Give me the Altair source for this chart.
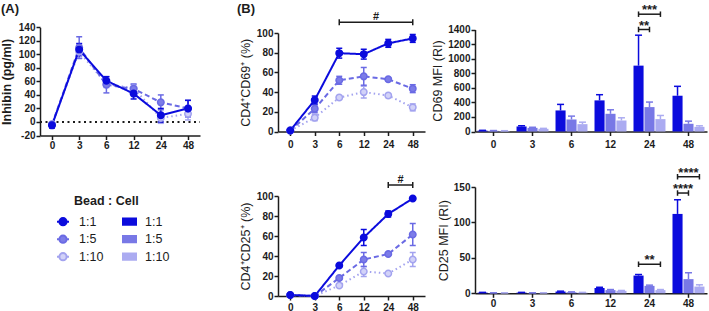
import altair as alt
import pandas as pd

TIMES = ["0", "3", "6", "12", "24", "48"]
RATIOS = ["1:1", "1:5", "1:10"]

# (A) Inhibin (pg/ml): mean and error
inhibin_1_1 = [-5, 107, 61, 42, 10, 20]
inhibin_1_1_err = [4, 9, 6, 8, 10, 12]
inhibin_1_5 = [-4, 110, 55, 49, 29, 20]
inhibin_1_5_err = [3, 16, 12, 7, 11, 12]
inhibin_1_10 = [-3, 104, 56, 50, 6, 12]
inhibin_1_10_err = [3, 10, 5, 6, 8, 9]

# (B) CD4+CD69+ (%)
cd69_pct_1_1 = [1, 32, 79.5, 78.5, 89.5, 94.5]
cd69_pct_1_1_err = [1, 4, 5, 5, 4, 4]
cd69_pct_1_5 = [1, 23, 52, 56, 53, 43.5]
cd69_pct_1_5_err = [1, 4, 4, 9, 1.5, 4]
cd69_pct_1_10 = [1, 14, 34.5, 40, 36.5, 24.5]
cd69_pct_1_10_err = [1, 3, 2, 6, 2, 3.5]

# CD4+CD25+ (%)
cd25_pct_1_1 = [1, 0, 30.5, 58.5, 82, 97.5]
cd25_pct_1_1_err = [0.5, 0.5, 1.5, 8, 3, 1]
cd25_pct_1_5 = [1, 0, 18, 36.5, 42, 61.5]
cd25_pct_1_5_err = [0.5, 0.5, 1.5, 7, 1, 11]
cd25_pct_1_10 = [1, 0, 10.5, 24.5, 22.5, 36.5]
cd25_pct_1_10_err = [0.5, 0.5, 1.5, 5, 1, 7]

# CD69 MFI (RI)
cd69_mfi_1_1 = [12, 69, 289, 427, 904, 491]
cd69_mfi_1_1_err = [4, 10, 83, 78, 418, 129]
cd69_mfi_1_5 = [10, 50, 165, 243, 335, 106]
cd69_mfi_1_5_err = [3, 8, 46, 55, 69, 36]
cd69_mfi_1_10 = [8, 37, 101, 151, 170, 64]
cd69_mfi_1_10_err = [3, 6, 27, 37, 50, 14]

# CD25 MFI (RI)
cd25_mfi_1_1 = [1, 1, 2.5, 7.5, 25, 112]
cd25_mfi_1_1_err = [0.3, 0.3, 0.5, 1, 1.5, 20]
cd25_mfi_1_5 = [0.5, 0.5, 1.5, 4.5, 10.5, 20]
cd25_mfi_1_5_err = [0.2, 0.2, 0.5, 0.8, 1, 9]
cd25_mfi_1_10 = [0.5, 0.5, 1, 3.5, 4.5, 9.5]
cd25_mfi_1_10_err = [0.2, 0.2, 0.3, 0.5, 0.8, 2.5]

# significance annotations
cd69_pct_sig = ["6", "48", 111, "#"]  # from, to, height, label
cd25_pct_sig = ["24", "48", 111, "#"]
cd69_mfi_sig_time = ["24", "24"]
cd69_mfi_sig_to = ["1:5", "1:10"]
cd69_mfi_sig_y = [1400, 1610]
cd69_mfi_sig_label = ["**", "***"]
cd25_mfi_sig_time = ["24", "48", "48"]
cd25_mfi_sig_to = ["1:10", "1:5", "1:10"]
cd25_mfi_sig_y = [41, 141.5, 164.5]
cd25_mfi_sig_label = ["**", "****", "****"]

# ---------------- styling / layout ----------------
W, H = 709, 311
FONT = "Liberation Sans"
INK = "#1c1c1c"
LINE_COLS = ["#0b0bdd", "#6a6ae4", "#a3a3ef"]
FILL_COLS = ["#0b0bdd", "#7c7ce8", "#d2d2f8"]
BAR_COLS = ["#0b0bdd", "#7878e6", "#ababf1"]
DASHES = [[1, 0], [5, 3], [1.5, 3]]
HCAP = "M-1,0L1,0"
VCAP = "M0,-1L0,1"
BAND_PI, BAND_PO, OFF_PI = 0.18, 0.065, 0.08

PANELS = {
    "inh": dict(kind="point", xr=[40, 200], pad=0.44, yd=[-20, 140], yr=[135.5, 27.3],
                yvals=list(range(-20, 141, 20)), title="Inhibin (pg/ml)", tw="bold", tp=5, xlp=1),
    "c69": dict(kind="point", xr=[278, 425], pad=0.5, yd=[0, 100], yr=[131.5, 33],
                yvals=list(range(0, 101, 20)), title="CD4⁺CD69⁺ (%)", tw="normal", tp=4, xlp=4),
    "c25": dict(kind="point", xr=[278, 425], pad=0.5, yd=[0, 100], yr=[296, 196],
                yvals=list(range(0, 101, 20)), title="CD4⁺CD25⁺ (%)", tw="normal", tp=4, xlp=2),
    "m69": dict(kind="band", xr=[475, 707], yd=[0, 1400], yr=[131.5, 29.5],
                yvals=list(range(0, 1401, 200)), title="CD69 MFI (RI)", tw="normal", tp=3, xlp=4),
    "m25": dict(kind="band", xr=[475, 707], yd=[0, 150], yr=[293.3, 187],
                yvals=[0, 50, 100, 150], title="CD25 MFI (RI)", tw="normal", tp=3, xlp=1),
}


def x_step(p):
    n = len(TIMES)
    span = p["xr"][1] - p["xr"][0]
    if p["kind"] == "point":
        return span / (n - 1 + 2 * p["pad"])
    return span / (n - BAND_PI + 2 * BAND_PO)


def xaxis(p):
    return alt.Axis(orient="bottom", offset=p["yr"][0] - H, title=None, labelAngle=0,
                    labelFont=FONT, labelFontSize=10, labelFontWeight="bold", labelColor=INK,
                    domainColor=INK, domainWidth=1.5, tickColor=INK, tickWidth=1.5, tickSize=4,
                    labelPadding=p["xlp"], grid=False)


def yaxis(p):
    return alt.Axis(orient="left", offset=-p["xr"][0], title=p["title"], values=p["yvals"],
                    labelFont=FONT, labelFontSize=10, labelFontWeight="bold", labelColor=INK,
                    labelExpr="'' + datum.value", labelOverlap=False, labelPadding=1,
                    domainColor=INK, domainWidth=1.5, tickColor=INK, tickWidth=1.5, tickSize=4,
                    titleFont=FONT, titleFontSize=12.5, titleFontWeight=p["tw"], titleColor=INK,
                    titlePadding=p["tp"], grid=False)


def X(p, field="t", axis=False):
    if p["kind"] == "point":
        sc = alt.Scale(type="point", domain=TIMES, range=p["xr"], padding=p["pad"])
    else:
        sc = alt.Scale(type="band", domain=TIMES, range=p["xr"], paddingInner=BAND_PI,
                       paddingOuter=BAND_PO)
    return alt.X(f"{field}:N", scale=sc, axis=xaxis(p) if axis else None)


def Y(p, field, axis=False):
    sc = alt.Scale(domain=p["yd"], range=p["yr"], nice=False, zero=False)
    return alt.Y(f"{field}:Q", scale=sc, axis=yaxis(p) if axis else None)


def XO(field="r", centre=False):
    # bars: ordinary offset bands; other marks: zero-width bands placed at the bar centres
    if centre:
        sc = alt.Scale(domain=RATIOS, paddingInner=1, paddingOuter=(1 - OFF_PI) / 2)
    else:
        sc = alt.Scale(domain=RATIOS, paddingInner=OFF_PI, paddingOuter=0)
    return alt.XOffset(f"{field}:N", scale=sc)


def long_df(means, errs):
    rows = []
    for r, m, e in reversed(list(zip(RATIOS, means, errs))):
        for i, (t, v, ev) in enumerate(zip(TIMES, m, e)):
            rows.append(dict(t=t, i=i, r=r, v=v, lo=v - ev, hi=v + ev))
    return pd.DataFrame(rows)


def stroke_enc(cols=LINE_COLS):
    return alt.Stroke("r:N", scale=alt.Scale(domain=RATIOS, range=cols), legend=None)


def line_panel(key, means, errs):
    p = PANELS[key]
    base = alt.Chart(long_df(means, errs))
    err = base.mark_rule(strokeWidth=1.5).encode(x=X(p), y=Y(p, "lo"), y2=alt.Y2("hi"), stroke=stroke_enc())
    caps = base.transform_fold(["lo", "hi"], as_=["k", "cv"]).mark_point(
        shape=HCAP, size=36, strokeWidth=1.5, filled=False, opacity=1
    ).encode(x=X(p), y=Y(p, "cv"), stroke=stroke_enc())
    line = base.mark_line(strokeWidth=2).encode(
        x=X(p, axis=True), y=Y(p, "v", axis=True), stroke=stroke_enc(),
        strokeDash=alt.StrokeDash("r:N", scale=alt.Scale(domain=RATIOS, range=DASHES), legend=None),
        order=alt.Order("i:Q"))
    pts = base.mark_point(size=42, strokeWidth=1.5, filled=False, opacity=1).encode(
        x=X(p), y=Y(p, "v"), stroke=stroke_enc(),
        fill=alt.Fill("r:N", scale=alt.Scale(domain=RATIOS, range=FILL_COLS), legend=None))
    return [err, caps, line, pts]


def line_sig(key, sig):
    p = PANELS[key]
    f, t, yv, lab = sig
    i0, i1 = TIMES.index(f), TIMES.index(t)
    mid = (i0 + i1) / 2
    df = pd.DataFrame([{"f": f, "to": t, "y": yv, "lab": lab, "m": TIMES[int(mid)]}])
    rule = alt.Chart(df).mark_rule(color=INK, strokeWidth=1.5).encode(
        x=X(p, "f"), x2=alt.X2("to"), y=Y(p, "y"))
    caps = alt.Chart(df).transform_fold(["f", "to"], as_=["k", "e"]).mark_point(
        shape=VCAP, size=36, color=INK, strokeWidth=1.5, opacity=1, filled=False
    ).encode(x=X(p, "e"), y=Y(p, "y"))
    text = alt.Chart(df).mark_text(font=FONT, fontSize=11, fontWeight="bold", color=INK,
                                   baseline="alphabetic", dx=(mid - int(mid)) * x_step(p), dy=-2
                                   ).encode(x=X(p, "m"), y=Y(p, "y"), text="lab:N")
    return [rule, caps, text]


def bar_panel(key, means, errs):
    p = PANELS[key]
    base = alt.Chart(long_df(means, errs))
    color = alt.Color("r:N", scale=alt.Scale(domain=RATIOS, range=BAR_COLS), legend=None)
    bars = base.mark_bar(opacity=1).encode(x=X(p, axis=True), xOffset=XO(),
                                           y=Y(p, "v", axis=True), color=color)
    err = base.mark_rule(strokeWidth=1.5).encode(x=X(p), xOffset=XO(centre=True), y=Y(p, "v"),
                                                 y2=alt.Y2("hi"), color=color)
    cap = base.mark_point(shape=HCAP, size=49, strokeWidth=1.5, filled=False, opacity=1).encode(
        x=X(p), xOffset=XO(centre=True), y=Y(p, "hi"), color=color)
    return [bars, err, cap]


def bar_sig(key, times, tos, ys, labels):
    p = PANELS[key]
    rows, adj_rows, wide_rows = [], [], []
    for k, (t, to, yv, lab) in enumerate(zip(times, tos, ys, labels)):
        for j, r in enumerate(("1:1", to)):
            rows.append(dict(id=k, j=j, t=t, r=r, y=yv))
        if RATIOS.index(to) == 1:
            adj_rows.append(dict(t=t, r="1:1", y=yv, lab=lab))
        else:
            wide_rows.append(dict(t=t, r="1:5", y=yv, lab=lab))
    df = pd.DataFrame(rows)
    bw = x_step(p) * (1 - BAND_PI)
    off_step = bw / (len(RATIOS) - OFF_PI)
    out = [
        alt.Chart(df).mark_line(color=INK, strokeWidth=1.5).encode(
            x=X(p), xOffset=XO(centre=True), y=Y(p, "y"), detail="id:N", order=alt.Order("j:Q")),
        alt.Chart(df).mark_point(shape=VCAP, size=30, color=INK, strokeWidth=1.5, filled=False, opacity=1).encode(
            x=X(p), xOffset=XO(centre=True), y=Y(p, "y")),
    ]
    for rows_, dx in ((adj_rows, off_step / 2), (wide_rows, 0)):
        if rows_:
            out.append(alt.Chart(pd.DataFrame(rows_)).mark_text(
                font=FONT, fontSize=13, fontWeight="bold", color=INK, baseline="alphabetic", dx=dx, dy=0
            ).encode(x=X(p), xOffset=XO(centre=True), y=Y(p, "y"), text="lab:N"))
    return out


def label_text(s, x, y, size, weight="bold"):
    return alt.Chart(pd.DataFrame({"s": [s]})).mark_text(
        font=FONT, fontSize=size, fontWeight=weight, color=INK, align="left", baseline="alphabetic"
    ).encode(text="s:N", x=alt.value(x), y=alt.value(y))


layers = []
# zero reference line in (A)
pA = PANELS["inh"]
layers.append(alt.Chart(pd.DataFrame({"y": [0]})).mark_rule(
    color=INK, strokeWidth=2, strokeDash=[2, 3.5]).encode(
    y=Y(pA, "y"), x=alt.value(pA["xr"][0]), x2=alt.value(pA["xr"][1])))
layers += line_panel("inh", [inhibin_1_1, inhibin_1_5, inhibin_1_10],
                     [inhibin_1_1_err, inhibin_1_5_err, inhibin_1_10_err])
layers += line_panel("c69", [cd69_pct_1_1, cd69_pct_1_5, cd69_pct_1_10],
                     [cd69_pct_1_1_err, cd69_pct_1_5_err, cd69_pct_1_10_err])
layers += line_panel("c25", [cd25_pct_1_1, cd25_pct_1_5, cd25_pct_1_10],
                     [cd25_pct_1_1_err, cd25_pct_1_5_err, cd25_pct_1_10_err])
layers += line_sig("c69", cd69_pct_sig)
layers += line_sig("c25", cd25_pct_sig)
layers += bar_panel("m69", [cd69_mfi_1_1, cd69_mfi_1_5, cd69_mfi_1_10],
                    [cd69_mfi_1_1_err, cd69_mfi_1_5_err, cd69_mfi_1_10_err])
layers += bar_panel("m25", [cd25_mfi_1_1, cd25_mfi_1_5, cd25_mfi_1_10],
                    [cd25_mfi_1_1_err, cd25_mfi_1_5_err, cd25_mfi_1_10_err])
layers += bar_sig("m69", cd69_mfi_sig_time, cd69_mfi_sig_to, cd69_mfi_sig_y, cd69_mfi_sig_label)
layers += bar_sig("m25", cd25_mfi_sig_time, cd25_mfi_sig_to, cd25_mfi_sig_y, cd25_mfi_sig_label)

# legends
LEG_Y, ROW_PAD, CLIP_H = 214.7, 3.5, 14
line_sym = "M-1,0L-0.6,0M0.6,0L1,0M0.6,0A0.6,0.6,0,1,1,-0.6,0A0.6,0.6,0,1,1,0.6,0Z"
bar_sym = "M-1,-0.55L1,-0.55L1,0.55L-1,0.55Z"
leg1 = alt.Legend(orient="none", legendX=56, legendY=LEG_Y, title=None, direction="vertical",
                  symbolType=line_sym, symbolSize=144, symbolStrokeWidth=2, padding=0,
                  labelFont=FONT, labelFontSize=12.5, labelColor=INK, labelOffset=9,
                  rowPadding=ROW_PAD, clipHeight=CLIP_H)
leg2 = alt.Legend(orient="none", legendX=122, legendY=LEG_Y, title=None, direction="vertical",
                  symbolType=bar_sym, symbolSize=225, symbolStrokeWidth=0, padding=0,
                  labelFont=FONT, labelFontSize=12.5, labelColor=INK, labelOffset=8,
                  rowPadding=ROW_PAD, clipHeight=CLIP_H)
leg_df = pd.DataFrame({"r": RATIOS})
layers.append(alt.Chart(leg_df).transform_filter("false").mark_point(filled=False, opacity=1).encode(
    stroke=alt.Stroke("r:N", scale=alt.Scale(domain=RATIOS, range=LINE_COLS), legend=leg1),
    fill=alt.Fill("r:N", scale=alt.Scale(domain=RATIOS, range=FILL_COLS), legend=leg1)))
layers.append(alt.Chart(leg_df).transform_filter("false").mark_point(filled=True, opacity=1).encode(
    color=alt.Color("r:N", scale=alt.Scale(domain=RATIOS, range=BAR_COLS), legend=leg2)))

layers.append(label_text("(A)", 1, 12.5, 13))
layers.append(label_text("(B)", 237, 12.5, 13))
layers.append(label_text("Bead : Cell", 74, 204.5, 12.5))

chart = alt.layer(*layers).resolve_scale(
    x="independent", y="independent", color="independent", stroke="independent",
    fill="independent", xOffset="independent", strokeDash="independent"
).resolve_axis(x="independent", y="independent").properties(
    width=W, height=H, autosize=alt.AutoSizeParams(type="none"), padding=0
).configure_view(stroke=None)

chart.save("out.html", embed_options={"renderer": "svg", "actions": False})
